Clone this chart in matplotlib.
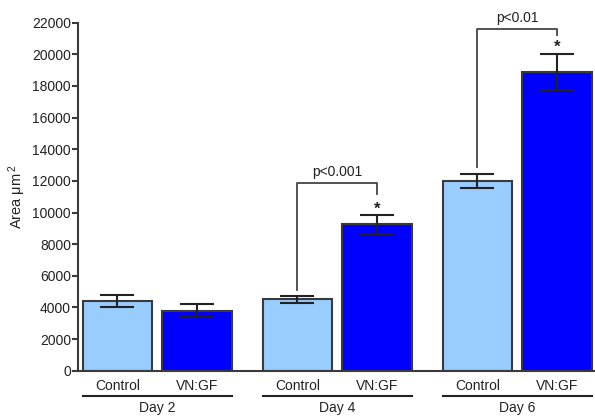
import matplotlib
matplotlib.use("Agg")
import matplotlib.pyplot as plt
import matplotlib.transforms as mtransforms
import numpy as np

plt.rcParams['font.family'] = ['Liberation Sans', 'DejaVu Sans']
plt.rcParams['mathtext.fontset'] = 'custom'
plt.rcParams['mathtext.rm'] = 'Liberation Sans'
plt.rcParams['mathtext.it'] = 'Liberation Sans'

groups = ['Day 2', 'Day 4', 'Day 6']
conditions = ['Control', 'VN:GF']
control_mean = [4400, 4510, 12000]
control_sem = [370, 210, 450]
vngf_mean = [3780, 9250, 18900]
vngf_sem = [410, 600, 1150]
yticks = list(range(0, 22001, 2000))

# significance annotations: (group index, top, right-leg bottom, left-leg bottom, text)
sig_groups = [1, 2]
sig_top = [11850, 21580]
sig_right_bottom = [11150, 21220]
sig_left_bottom = [5100, 12860]
sig_text = ['p<0.001', 'p<0.01']

edge = '#3a3a3a'
c_light = '#99ccff'
c_dark = '#0000ff'

fig = plt.figure(figsize=(5.95, 4.18), dpi=100)
ax = fig.add_axes([78/595, 47.3/418, 517/595, 348/418])

x = np.arange(len(groups))
off = 0.221
w = 0.386
xc = x - off
xv = x + off

ax.bar(xc, control_mean, width=w, color=c_light, edgecolor=edge, linewidth=1.5, zorder=2)
ax.bar(xv, vngf_mean, width=w, color=c_dark, edgecolor=edge, linewidth=1.5, zorder=2)
ax.errorbar(xc, control_mean, yerr=control_sem, fmt='none', ecolor='#222222',
            elinewidth=1.5, capsize=12.5, capthick=1.5, zorder=3)
ax.errorbar(xv, vngf_mean, yerr=vngf_sem, fmt='none', ecolor='#222222',
            elinewidth=1.5, capsize=12.5, capthick=1.5, zorder=3)

ax.set_xlim(-0.440, 2.432)
ax.set_ylim(0, 22000)
ax.set_yticks(yticks)
ax.set_yticklabels([str(t) for t in yticks], fontsize=10, color='#222222')
ax.tick_params(axis='y', direction='out', length=4, width=1.5, color=edge, pad=1)
ax.set_xticks([])
for s in ['top', 'right']:
    ax.spines[s].set_visible(False)
for s in ['left', 'bottom']:
    ax.spines[s].set_linewidth(1.5)
    ax.spines[s].set_color(edge)

ax.set_ylabel('Area μm$^{\\,2}$', fontsize=10.5, labelpad=3, color='#222222')

# category labels and group underlines
blend = mtransforms.blended_transform_factory(ax.transData, ax.transAxes)
t_cat = mtransforms.offset_copy(blend, fig=fig, y=-15.5, units='dots')
t_line = mtransforms.offset_copy(blend, fig=fig, y=-25.5, units='dots')
t_day = mtransforms.offset_copy(blend, fig=fig, y=-37.5, units='dots')
for i, g in enumerate(groups):
    ax.text(xc[i], 0, conditions[0], transform=t_cat, ha='center', va='center',
            fontsize=10, color='#222222', clip_on=False)
    ax.text(xv[i], 0, conditions[1], transform=t_cat, ha='center', va='center',
            fontsize=10, color='#222222', clip_on=False)
    ax.plot([xc[i] - w/2, xv[i] + w/2], [0, 0], transform=t_line, color='#222222',
            linewidth=1.5, clip_on=False)
    ax.text(x[i], 0, g, transform=t_day, ha='center', va='center',
            fontsize=10, color='#222222', clip_on=False)

# significance brackets
for k, gi in enumerate(sig_groups):
    xl = xc[gi]
    xr = xv[gi]
    ax.plot([xl, xl, xr, xr], [sig_left_bottom[k], sig_top[k], sig_top[k], sig_right_bottom[k]],
            color='#444444', linewidth=1.3, clip_on=False, zorder=4)
    ax.text((xl + xr) / 2, sig_top[k] + 300, sig_text[k], ha='center', va='bottom',
            fontsize=10, color='#222222', clip_on=False)
    star_y = vngf_mean[gi] + vngf_sem[gi] + 100
    ax.text(xr, star_y, '*', ha='center', va='baseline', fontsize=12,
            fontweight='bold', color='#222222', clip_on=False)

fig.savefig('out.png', dpi=100)
